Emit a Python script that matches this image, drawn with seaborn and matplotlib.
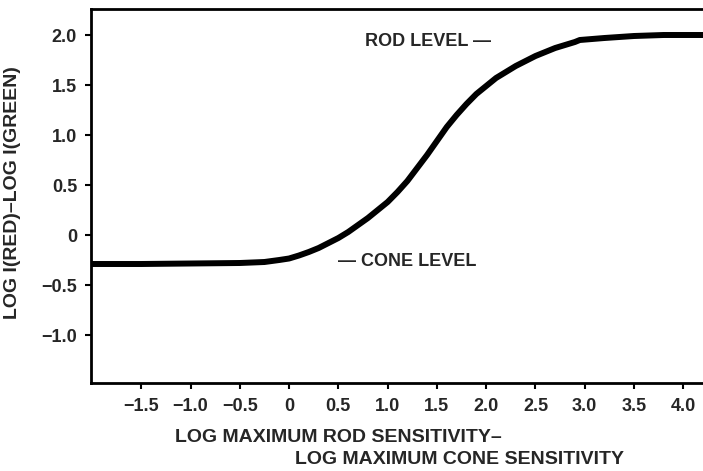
import matplotlib
matplotlib.use("Agg")
import matplotlib.pyplot as plt
import seaborn as sns
import pandas as pd

# Log rod-cone sensitivity difference vs. red-green threshold ratio
log_sens_diff = [-2.0, -1.5, -1.0, -0.5, -0.25, -0.1, 0.0, 0.1, 0.2, 0.3, 0.4,
                 0.5, 0.6, 0.7, 0.8, 0.9, 1.0, 1.1, 1.2, 1.3, 1.4, 1.5, 1.6,
                 1.7, 1.8, 1.9, 2.0, 2.1, 2.2, 2.3, 2.4, 2.5, 2.6, 2.7, 2.8,
                 2.9, 2.95, 3.2, 3.5, 3.8, 4.2]
log_red_green = [-0.29, -0.29, -0.285, -0.28, -0.27, -0.25, -0.235, -0.205,
                 -0.17, -0.13, -0.08, -0.03, 0.03, 0.10, 0.17, 0.25, 0.33,
                 0.43, 0.54, 0.67, 0.80, 0.94, 1.08, 1.20, 1.31, 1.41, 1.49,
                 1.57, 1.63, 1.69, 1.74, 1.79, 1.83, 1.87, 1.90, 1.93, 1.95,
                 1.97, 1.99, 2.0, 2.0]

x_ticks = [-1.5, -1.0, -0.5, 0, 0.5, 1.0, 1.5, 2.0, 2.5, 3.0, 3.5, 4.0]
x_tick_labels = ["\u22121.5", "\u22121.0", "\u22120.5", "0", "0.5", "1.0", "1.5",
                 "2.0", "2.5", "3.0", "3.5", "4.0"]
y_ticks = [2.0, 1.5, 1.0, 0.5, 0, -0.5, -1.0]
y_tick_labels = ["2.0", "1.5", "1.0", "0.5", "0", "\u22120.5", "\u22121.0"]

df = pd.DataFrame({"x": log_sens_diff, "y": log_red_green})

sns.set_style("white")
plt.rcParams["font.family"] = ["Liberation Sans", "DejaVu Sans"]
plt.rcParams["font.weight"] = "bold"

fig = plt.figure(figsize=(7.03, 4.71), dpi=100)
ax = fig.add_axes([91 / 703, 1 - 383 / 471, 1 - 91 / 703, (383 - 9) / 471])

sns.lineplot(data=df, x="x", y="y", ax=ax, color="black", linewidth=4.3,
             solid_capstyle="butt", solid_joinstyle="round")

ax.set_xlim(-2.01, 4.2)
ax.set_ylim(-1.48, 2.26)
ax.set_xticks(x_ticks)
ax.set_xticklabels(x_tick_labels, fontsize=13, fontweight="bold")
ax.set_yticks(y_ticks)
ax.set_yticklabels(y_tick_labels, fontsize=13, fontweight="bold")
ax.tick_params(axis="x", direction="out", length=4, width=1.5,
               color="black", bottom=True, pad=7)
ax.tick_params(axis="y", direction="out", length=4, width=1.5,
               color="black", left=True, pad=6)
ax.set_xlabel("")
ax.set_ylabel("LOG I(RED)\u2013LOG I(GREEN)", fontsize=14, fontweight="bold")
ax.yaxis.set_label_coords(-0.115, 0.51)

for side in ["left", "bottom", "top"]:
    ax.spines[side].set_visible(True)
    ax.spines[side].set_color("black")
    ax.spines[side].set_linewidth(2.0)
ax.spines["right"].set_visible(False)

ax.text(0.77, 1.93, "ROD LEVEL \u2014", fontsize=13, fontweight="bold",
        ha="left", va="center")
ax.text(0.5, -0.27, "\u2014 CONE LEVEL", fontsize=13, fontweight="bold",
        ha="left", va="center")

fig.text(175 / 703, 1 - 437 / 471, "LOG MAXIMUM ROD SENSITIVITY\u2013",
         fontsize=14, fontweight="bold", ha="left", va="center")
fig.text(295 / 703, 1 - 459 / 471, "LOG MAXIMUM CONE SENSITIVITY",
         fontsize=14, fontweight="bold", ha="left", va="center")

fig.savefig("out.png", dpi=100)
